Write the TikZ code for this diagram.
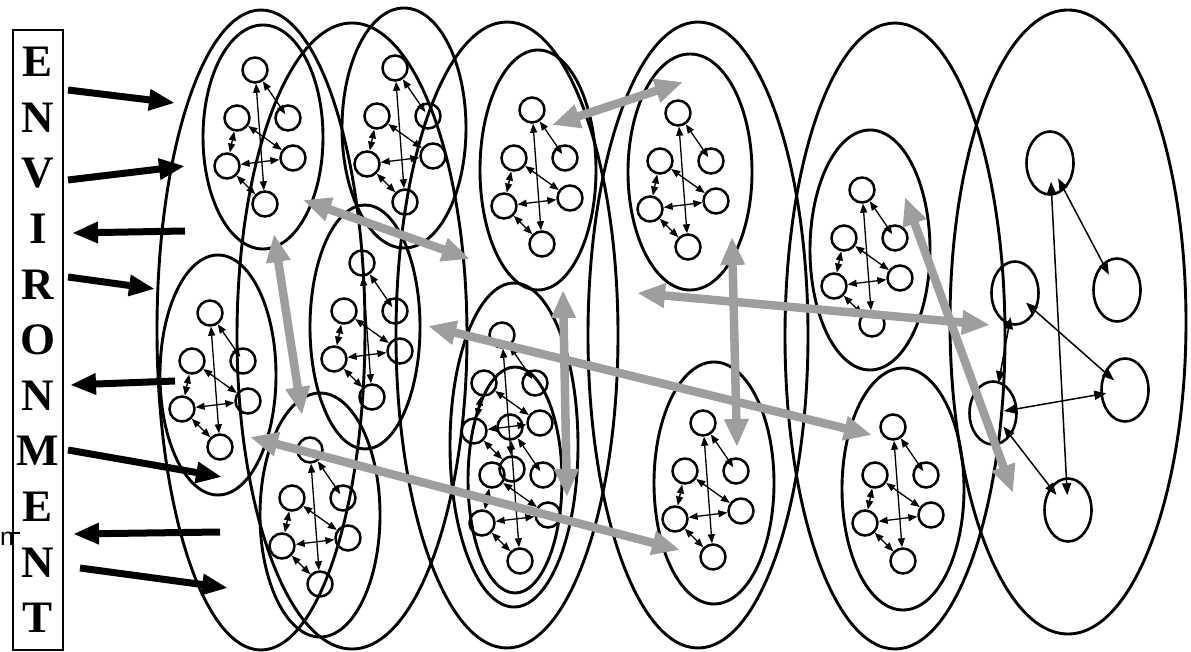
\documentclass[tikz,border=0pt]{standalone}
\usepackage{fontspec}
\setmainfont{Liberation Serif}
\newfontfamily\envfont{Liberation Serif}
\newfontfamily\sansfont{Liberation Sans}
\usetikzlibrary{arrows.meta,shapes.geometric}
\definecolor{arrowgray}{RGB}{158,158,158}
\tikzset{
  holon/.style={draw, ellipse, line width=2.9pt, inner sep=0pt, outer sep=0pt},
  sc/.style={draw, circle, line width=2.5pt, inner sep=0pt, minimum size=25pt},
  ca/.style={line width=1.3pt, {Triangle[length=9pt,width=7pt]}-{Triangle[length=9pt,width=7pt]}},
  bigc/.style={draw, ellipse, line width=2.6pt, inner sep=0pt, minimum width=47pt, minimum height=63pt},
  cb/.style={line width=1.5pt, {Triangle[length=12pt,width=9pt]}-{Triangle[length=12pt,width=9pt]}, shorten <=-13pt, shorten >=-13pt},
  envarrow/.style={line width=7pt, -{Triangle[length=26pt,width=20pt]}},
  grayarrow/.style={draw=arrowgray, line width=8.5pt, {Triangle[length=28pt,width=23pt]}-{Triangle[length=28pt,width=23pt]}},
  letter/.style={font=\envfont\fontsize{45}{45}\selectfont\bfseries, inner sep=0pt}
}
\newcommand\hol[5]{\node[holon, minimum width=#4pt, minimum height=#5pt] (#1) at (#2,#3) {};}
\newcommand\mkcluster[3]{%
  \begin{scope}[shift={(#2,#3)}]
    \node[sc] (#1a) at (0,0) {};
    \node[sc] (#1b) at (-18,48) {};
    \node[sc] (#1c) at (33,48) {};
    \node[sc] (#1d) at (-28,96) {};
    \node[sc] (#1e) at (38,88) {};
    \node[sc] (#1f) at (10,134) {};
    \draw[ca] (#1f) -- (#1a);
    \draw[ca, shorten <=-9pt] (#1c) -- (#1a);
    \draw[ca] (#1b) -- (#1d);
    \draw[ca] (#1b) -- (#1e);
    \draw[ca] (#1d) -- (#1e);
    \draw[ca] (#1d) -- (#1f);
  \end{scope}}
\begin{document}
\begin{tikzpicture}[x=1pt,y=-1pt]
\useasboundingbox (0,0) rectangle (1191,652);
% big holons
\hol{E1}{261}{330}{208}{640}
\hol{E3}{352}{336}{230}{626}
\hol{E4}{507}{335}{222}{626}
\hol{D}{698}{335}{220}{626}
\hol{F}{895}{336}{220}{626}
\hol{G}{1068}{322}{236}{624}
% smaller holons
\hol{A1}{263}{137}{120}{224}
\hol{A2}{218}{375}{116}{240}
\hol{B1}{404}{128}{124}{240}
\hol{B2}{365}{327}{110}{244}
\hol{B3}{320}{515}{120}{244}
\hol{C1}{538}{170}{116}{240}
\hol{C2}{514}{445}{128}{324}
\hol{C3}{515}{480}{94}{226}
\hol{D1}{690}{172}{124}{236}
\hol{D2}{714}{483}{120}{242}
\hol{F1}{870}{250}{120}{240}
\hol{F2}{903}{489}{122}{242}
% clusters
\mkcluster{k1}{255}{70}
\mkcluster{k2}{395}{68}
\mkcluster{k3}{210}{313}
\mkcluster{k4}{362}{263}
\mkcluster{k5}{310}{450}
\mkcluster{k6}{532}{110}
\mkcluster{k7}{502}{335}
\mkcluster{k8}{510}{427}
\mkcluster{k9}{678}{113}
\mkcluster{k10}{703}{423}
\mkcluster{k11}{862}{190}
\mkcluster{k12}{893}{427}
% column 6 agents
\node[bigc] (c1) at (1050,163) {};
\node[bigc] (c2) at (1117,290) {};
\node[bigc] (c3) at (1015,293) {};
\node[bigc] (c4) at (1125,390) {};
\node[bigc] (c5) at (993,413) {};
\node[bigc] (c6) at (1068,510) {};
\draw[cb, shorten <=-14pt, shorten >=-18pt] (c1) -- (c6);
\draw[cb] (c1) -- (c2);
\draw[cb, shorten <=-8pt, shorten >=-2pt] (c3) -- (c5);
\draw[cb] (c3) -- (c4);
\draw[cb, shorten <=-14pt, shorten >=-6pt] (c5) -- (c4);
\draw[cb, shorten <=-12pt, shorten >=-10pt] (c5) -- (c6);
% environment
\node[draw, line width=1.8pt, minimum width=50pt, minimum height=620pt, inner sep=0pt] (env) at (38,340) {};
\foreach \L [count=\i from 0] in {E,N,V,I,R,O,N,M,E,N,T}
  \node[letter] (L\i) at (38,{62+55.6*\i}) {\L};
\node[font=\sansfont\fontsize{25}{25}\selectfont, anchor=base west, inner sep=0pt] (ntext) at (0,545) {n};
\coordinate (tickA) at (11,533);
\draw[line width=1.3pt] (tickA) -- (env.west |- tickA) -- ++(8,0);
% environment arrows
\coordinate (b1s) at (68,90);   \coordinate (b1e) at (175,103);
\coordinate (b2s) at (68,180);  \coordinate (b2e) at (185,166);
\coordinate (b3s) at (185,231); \coordinate (b3e) at (72,233);
\coordinate (b4s) at (68,277);  \coordinate (b4e) at (155,289);
\coordinate (b5s) at (175,381); \coordinate (b5e) at (70,385);
\coordinate (b6s) at (68,450);  \coordinate (b6e) at (222,477);
\coordinate (b7s) at (220,532); \coordinate (b7e) at (73,534);
\coordinate (b8s) at (80,568);  \coordinate (b8e) at (228,588);
\foreach \n in {1,...,8} \draw[envarrow] (b\n s) -- (b\n e);
% gray interaction arrows
\coordinate (g1a) at (552,125); \coordinate (g1b) at (683,82);
\coordinate (g2a) at (303,200); \coordinate (g2b) at (470,259);
\coordinate (g3a) at (274,234); \coordinate (g3b) at (302,415);
\coordinate (g4a) at (428,326); \coordinate (g4b) at (872,435);
\coordinate (g5a) at (250,437); \coordinate (g5b) at (680,550);
\coordinate (g6a) at (563,290); \coordinate (g6b) at (567,497);
\coordinate (g7a) at (732,237); \coordinate (g7b) at (737,447);
\coordinate (g8a) at (637,293); \coordinate (g8b) at (990,325);
\coordinate (g9a) at (905,197); \coordinate (g9b) at (1013,493);
\foreach \n in {1,...,9} \draw[grayarrow] (g\n a) -- (g\n b);
\end{tikzpicture}
\end{document}
